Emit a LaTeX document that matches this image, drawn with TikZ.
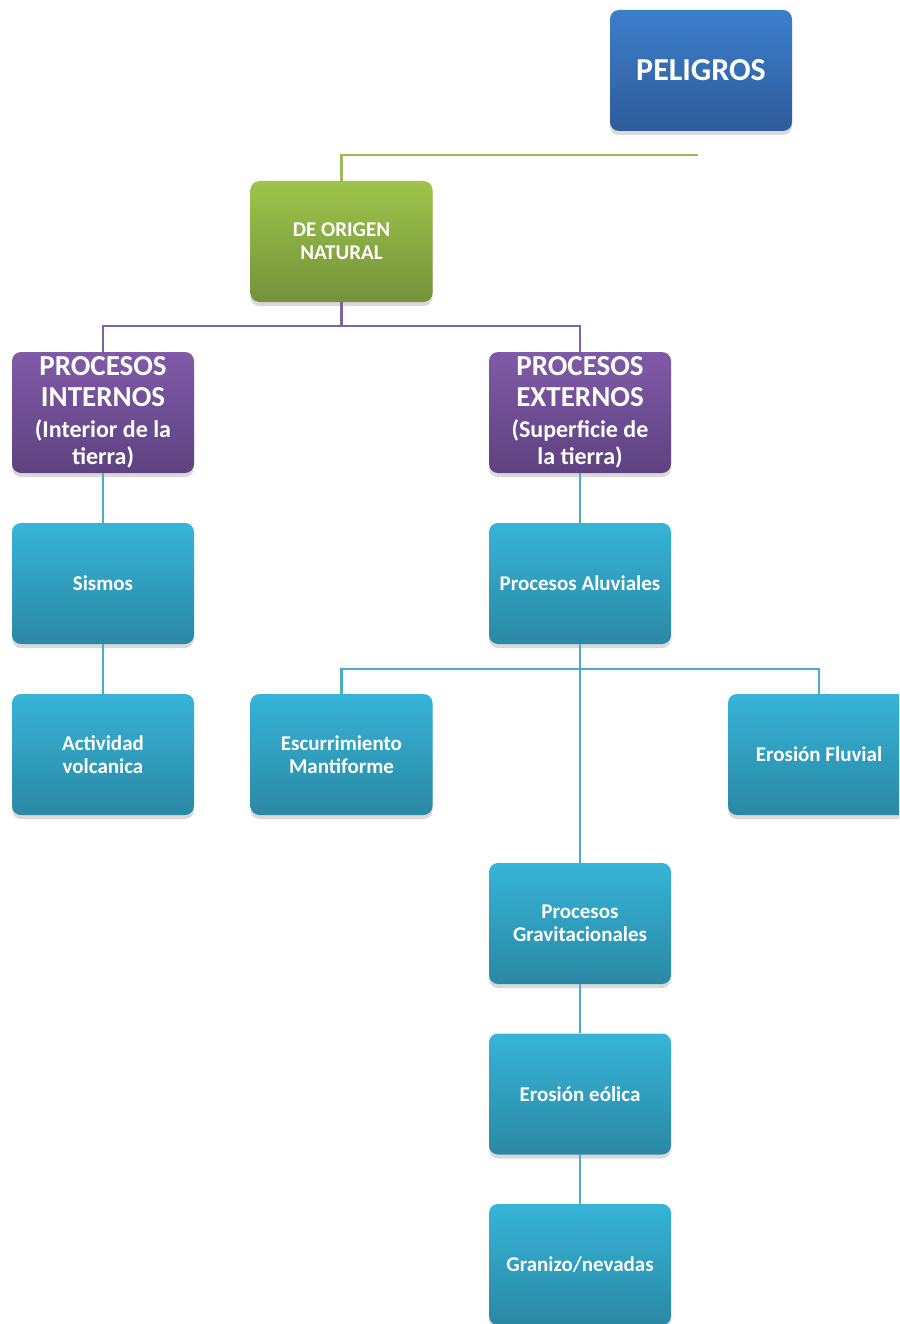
\documentclass[tikz,border=0pt]{standalone}
\usepackage{fontspec}
\setmainfont{Carlito}
\usetikzlibrary{shadows}
\definecolor{bTop}{RGB}{60,126,204}
\definecolor{bBot}{RGB}{46,92,154}
\definecolor{gTop}{RGB}{158,196,74}
\definecolor{gBot}{RGB}{116,146,58}
\definecolor{pTop}{RGB}{128,90,168}
\definecolor{pBot}{RGB}{94,66,128}
\definecolor{cTop}{RGB}{54,180,216}
\definecolor{cBot}{RGB}{42,136,164}
\definecolor{gLine}{RGB}{155,187,89}
\definecolor{pLine}{RGB}{128,100,162}
\definecolor{cLine}{RGB}{75,172,198}
\tikzset{
  box/.style={rounded corners=9pt, minimum width=182pt, minimum height=121pt, inner sep=0pt,
    text=white, align=center, font=\fontsize{21}{23}\selectfont\bfseries,
    drop shadow={shadow xshift=0pt, shadow yshift=-4pt, opacity=0.15, fill=black}},
  bluebox/.style={box, top color=bTop, bottom color=bBot, font=\fontsize{32}{36}\selectfont\bfseries},
  greenbox/.style={box, top color=gTop, bottom color=gBot},
  purplebox/.style={box, top color=pTop, bottom color=pBot, font=\fontsize{29}{31}\selectfont\bfseries},
  cyanbox/.style={box, top color=cTop, bottom color=cBot},
  gline/.style={draw=gLine, line width=2.4pt},
  pline/.style={draw=pLine, line width=2.4pt},
  cline/.style={draw=cLine, line width=2.4pt},
}
\newcommand{\subtxt}[1]{{\fontsize{24}{27}\selectfont #1}}
\begin{document}
\begin{tikzpicture}[x=1pt,y=-1pt]
\useasboundingbox (0,0) rectangle (899,1324);
\clip (0,0) rectangle (899,1324);
\node[bluebox] (peligros) at (701,70.5) {PELIGROS};
\node[greenbox] (natural) at (341.5,241.5) {DE ORIGEN\\NATURAL};
\node[purplebox] (internos) at (103,412.5) {PROCESOS\\INTERNOS\\\subtxt{(Interior de la}\\[-4pt]\subtxt{tierra)}};
\node[purplebox] (externos) at (580,412.5) {PROCESOS\\EXTERNOS\\\subtxt{(Superficie de}\\[-4pt]\subtxt{la tierra)}};
\node[cyanbox] (sismos) at (103,583.5) {Sismos};
\node[cyanbox] (aluviales) at (580,583.5) {Procesos Aluviales};
\node[cyanbox] (volcanica) at (103,754.5) {Actividad\\volcanica};
\node[cyanbox] (escurr) at (341.5,754.5) {Escurrimiento\\Mantiforme};
\node[cyanbox] (fluvial) at (819,754.5) {Erosión Fluvial};
\node[cyanbox] (gravit) at (580,923.5) {Procesos\\Gravitacionales};
\node[cyanbox] (eolica) at (580,1094) {Erosión eólica};
\node[cyanbox] (granizo) at (580,1264.5) {Granizo/nevadas};
% connectors
\coordinate (pj) at (698,155);
\draw[gline] (pj) -| (natural.north);
\coordinate (nj) at (341.5,326);
\draw[pline] (natural.south) -- (nj);
\draw[pline] (nj) -| (internos.north);
\draw[pline] (nj) -| (externos.north);
\draw[cline] (internos.south) -- (sismos.north);
\draw[cline] (sismos.south) -- (volcanica.north);
\draw[cline] (externos.south) -- (aluviales.north);
\coordinate (aj) at (580,669);
\draw[cline] (aluviales.south) -- (gravit.north);
\draw[cline] (aj) -| (escurr.north);
\draw[cline] (aj) -| (fluvial.north);
\draw[cline] (gravit.south) -- (eolica.north);
\draw[cline] (eolica.south) -- (granizo.north);
\end{tikzpicture}
\end{document}
